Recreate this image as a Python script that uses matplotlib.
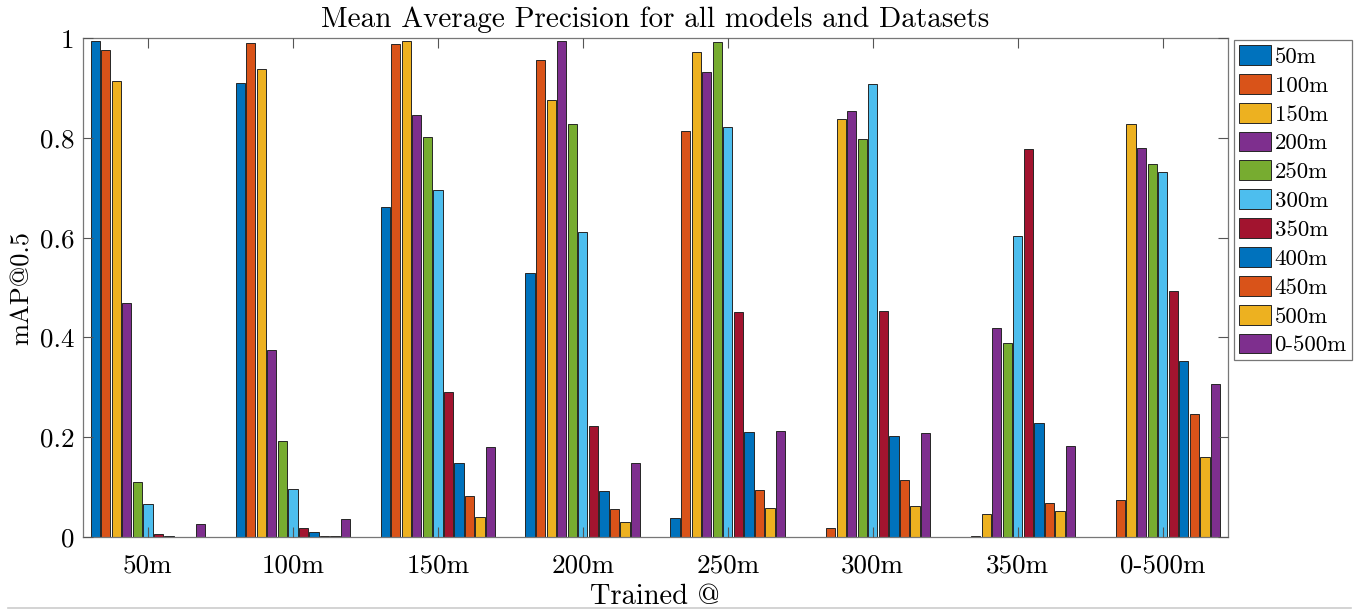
import numpy as np
import matplotlib
matplotlib.use("Agg")
import matplotlib.pyplot as plt
from matplotlib.lines import Line2D

groups = ["50m", "100m", "150m", "200m", "250m", "300m", "350m", "0-500m"]
series = ["50m", "100m", "150m", "200m", "250m", "300m", "350m",
          "400m", "450m", "500m", "0-500m"]

# rows = trained @ group, columns = tested dataset (series)
map50 = [
    [0.995, 0.977, 0.914, 0.470, 0.110, 0.066, 0.006, 0.002, 0.000, 0.000, 0.025],
    [0.911, 0.990, 0.938, 0.375, 0.193, 0.096, 0.017, 0.009, 0.002, 0.002, 0.035],
    [0.662, 0.989, 0.995, 0.847, 0.803, 0.696, 0.291, 0.147, 0.081, 0.039, 0.181],
    [0.530, 0.957, 0.877, 0.995, 0.828, 0.611, 0.223, 0.091, 0.056, 0.029, 0.148],
    [0.037, 0.815, 0.973, 0.933, 0.993, 0.823, 0.450, 0.210, 0.093, 0.058, 0.212],
    [0.000, 0.017, 0.839, 0.854, 0.798, 0.908, 0.454, 0.202, 0.114, 0.062, 0.208],
    [0.000, 0.002, 0.046, 0.419, 0.389, 0.604, 0.778, 0.229, 0.067, 0.052, 0.183],
    [0.000, 0.073, 0.828, 0.781, 0.748, 0.733, 0.494, 0.352, 0.247, 0.159, 0.306],
]

matlab_colors = ["#0072BD", "#D95319", "#EDB120", "#7E2F8E",
                 "#77AC30", "#4DBEEE", "#A2142F"]

plt.rcParams["font.family"] = ["cmr10", "DejaVu Serif"]
plt.rcParams["axes.formatter.use_mathtext"] = True

fig = plt.figure(figsize=(13.69, 6.13), dpi=100)
ax = fig.add_axes([0.0604, 0.1245, 0.8366, 0.8127])
ax.set_axisbelow(False)

data = np.array(map50)
x = np.arange(1, len(groups) + 1)
n = len(series)
pitch = 0.8 / n
for i, name in enumerate(series):
    ax.bar(x + (i - (n - 1) / 2) * pitch, data[:, i], width=pitch * 0.88,
           color=matlab_colors[i % 7], edgecolor="#262626", linewidth=0.7,
           label=name)

ax.set_xlim(0.55, 8.45)
ax.set_ylim(0, 1)
ax.set_xticks(x)
ax.set_xticklabels(groups, fontsize=19.5)
ax.set_yticks([0, 0.2, 0.4, 0.6, 0.8, 1])
ax.set_yticklabels(["0", "0.2", "0.4", "0.6", "0.8", "1"], fontsize=19.5)
ax.tick_params(direction="in", top=True, right=True, length=7,
               width=0.8, color="#555555")
ax.tick_params(axis="x", pad=12)
ax.tick_params(axis="y", pad=6)
for s in ax.spines.values():
    s.set_color("#777777")
    s.set_linewidth(0.9)

ax.set_title("Mean Average Precision for all models and Datasets",
             fontsize=21, pad=8)
ax.set_xlabel("Trained @", fontsize=20.5, labelpad=5)
ax.set_ylabel("mAP@0.5", fontsize=19, labelpad=4)

leg = ax.legend(loc="upper left", bbox_to_anchor=(1.0052, 0.997), fontsize=16.5,
                fancybox=False, edgecolor="#777777", framealpha=1,
                handlelength=1.4, handleheight=0.95, handletextpad=0.15,
                labelspacing=0.31, borderpad=0.22, borderaxespad=0)
leg.get_frame().set_linewidth(0.9)

# thin grey rule along the bottom of the picture
fig.add_artist(Line2D([0.006, 0.987], [0.008, 0.008], color="#cccccc",
                      linewidth=1.2, transform=fig.transFigure))

fig.savefig("out.png", dpi=100)
